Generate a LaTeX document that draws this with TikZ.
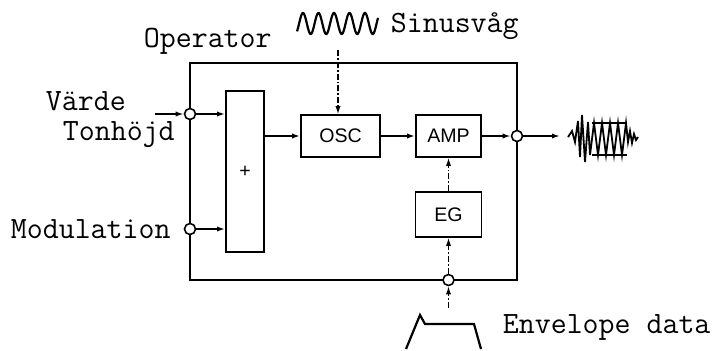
\documentclass[tikz,border=0pt]{standalone}
\usepackage{fontspec}
\newfontfamily\boxfont{Liberation Sans}
\usetikzlibrary{arrows.meta}

\begin{document}
\begin{tikzpicture}[x=0.5pt,y=-0.5pt,line width=0.9pt,
  every node/.style={font=\ttfamily\fontsize{15.5}{18}\selectfont,inner sep=0pt},
  blk/.style={draw,font=\boxfont\fontsize{9.8}{11}\selectfont},
  port/.style={draw,circle,fill=white,minimum size=5.5pt,line width=0.8pt},
  arr/.style={-{Latex[length=4pt,width=2.6pt]}},
  ctl/.style={arr,densely dashdotted,line width=0.6pt}]
\useasboundingbox (0,0) rectangle (713,350);
\coordinate (tin) at (155,114);
\coordinate (wav) at (560,136);
\coordinate (sin) at (338,50);
\coordinate (envtop) at (448.5,308);
\draw[line width=1.3pt] (190,63) rectangle (517,280);
\node[blk,minimum width=19pt,minimum height=80.5pt] (add) at (245,171.5) {+};
\node[blk,minimum width=39.5pt,minimum height=21pt] (osc) at (340.5,136) {OSC};
\node[blk,minimum width=32.5pt,minimum height=21pt] (amp) at (448.5,136) {AMP};
\node[blk,minimum width=33pt,minimum height=22.5pt] (eg) at (448.5,214.5) {EG};
\node[port] (pin) at (190,114) {};
\node[port] (pmod) at (190,229) {};
\node[port] (pout) at (517,136) {};
\node[port] (penv) at (448.5,280) {};
% signal path
\draw[arr] (tin) -- (pin);
\draw[arr] (pin) -- (pin -| add.west);
\draw[arr] (pmod) -- (pmod -| add.west);
\draw[arr] (add.east |- osc) -- (osc);
\draw[arr] (osc) -- (amp);
\draw[arr] (amp) -- (pout);
\draw[arr] (pout) -- (wav);
% control
\draw[ctl] (sin) -- (sin |- osc.north);
\draw[ctl] (eg) -- (amp);
\draw[ctl] (penv) -- (eg);
\draw[ctl] (envtop) -- (penv);
% waves
\draw[line width=1.1pt] plot[domain=297:378,samples=160,smooth] (\x,{23.5-10.5*sin((\x-299.1)*23.2258)});
\draw[line width=0.9pt] (568,137) -- (572,131) -- (575,142) -- (578,121) -- (580,157) -- (582,115)
  -- (585,162) -- (588,122) -- (590,155) -- (594,123) -- (598,155) -- (602,123) -- (606,155)
  -- (610,123) -- (614,155) -- (618,123) -- (622,155) -- (626,123) -- (628,142) -- (630,131)
  -- (632,143) -- (634,134) -- (636,140) -- (638,137);
\draw[line width=0.9pt] (592,123) -- (627,123) (592,155) -- (627,155);
\draw[line width=1.1pt] (406,349) -- (420,315) -- (425,324) -- (474,324) -- (481,349);
% labels
\node[anchor=base west] (op) at (143,47) {Operator};
\node[anchor=base west] (sv) at (390,32) {Sinusvåg};
\node[anchor=base west] (vd) at (45,110) {Värde};
\node[anchor=base west] (th) at (62,140) {Tonhöjd};
\node[anchor=base west] (md) at (10,238) {Modulation};
\node[anchor=base west] (ed) at (502,333) {Envelope data};
\end{tikzpicture}
\end{document}
